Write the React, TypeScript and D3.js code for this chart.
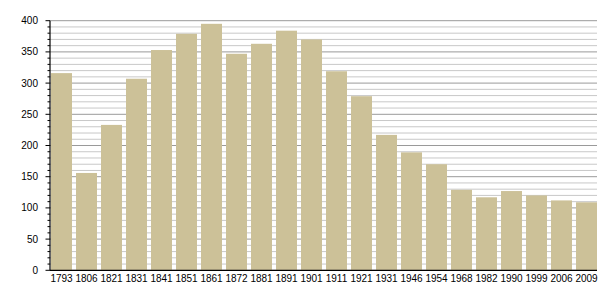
import React from "react";
import * as d3 from "d3";

const years = ["1793","1806","1821","1831","1841","1851","1861","1872","1881","1891","1901","1911","1921","1931","1946","1954","1968","1982","1990","1999","2006","2009"];
const population = [316,156,233,307,353,379,395,347,363,384,370,319,279,217,189,170,129,117,127,120,112,109];
const yTicks = [0,50,100,150,200,250,300,350,400];

const W = 605, H = 300;
const left = 50, right = 597, top = 20.7, bottom = 270.3;

export default function App() {
  const x = d3.scaleBand<string>().domain(years).range([49, 599]).paddingInner(0.16).paddingOuter(0.08);
  const y = d3.scaleLinear().domain([0, 400]).range([bottom, top]);
  const minor = d3.range(0, 401, 10);
  const font = "'Liberation Sans', Arial, Helvetica, sans-serif";
  return (
    <svg width={W} height={H} style={{ position: "absolute", left: 0, top: 0 }}>
      <rect x={0} y={0} width={W} height={H} fill="#fff" />
      {minor.map((v) => (
        <line key={"g" + v} x1={left} x2={right} y1={y(v)} y2={y(v)}
          stroke={v % 50 === 0 ? "#9a9a9a" : "#c8c8c8"} strokeWidth={1} />
      ))}
      {years.map((yr, i) => (
        <rect key={yr} x={x(yr)} width={x.bandwidth()} y={y(population[i])}
          height={bottom - y(population[i])} fill="#ccc198" />
      ))}
      {minor.map((v) => (
        <line key={"t" + v} x1={v % 50 === 0 ? 45.5 : 47.5} x2={left} y1={y(v)} y2={y(v)}
          stroke="#000" strokeWidth={1} />
      ))}
      <line x1={left} x2={left} y1={top} y2={bottom} stroke="#000" strokeWidth={1.2} />
      <line x1={left} x2={right} y1={bottom} y2={bottom} stroke="#000" strokeWidth={1.2} />
      {yTicks.map((v) => (
        <text key={"l" + v} x={38} y={y(v)} dy="0.35em" textAnchor="end"
          fontFamily={font} fontSize={10} fill="#000">{v}</text>
      ))}
      {years.map((yr) => (
        <text key={"x" + yr} x={(x(yr) as number) + x.bandwidth() / 2} y={281.5} textAnchor="middle"
          fontFamily={font} fontSize={10} fill="#000">{yr}</text>
      ))}
    </svg>
  );
}
